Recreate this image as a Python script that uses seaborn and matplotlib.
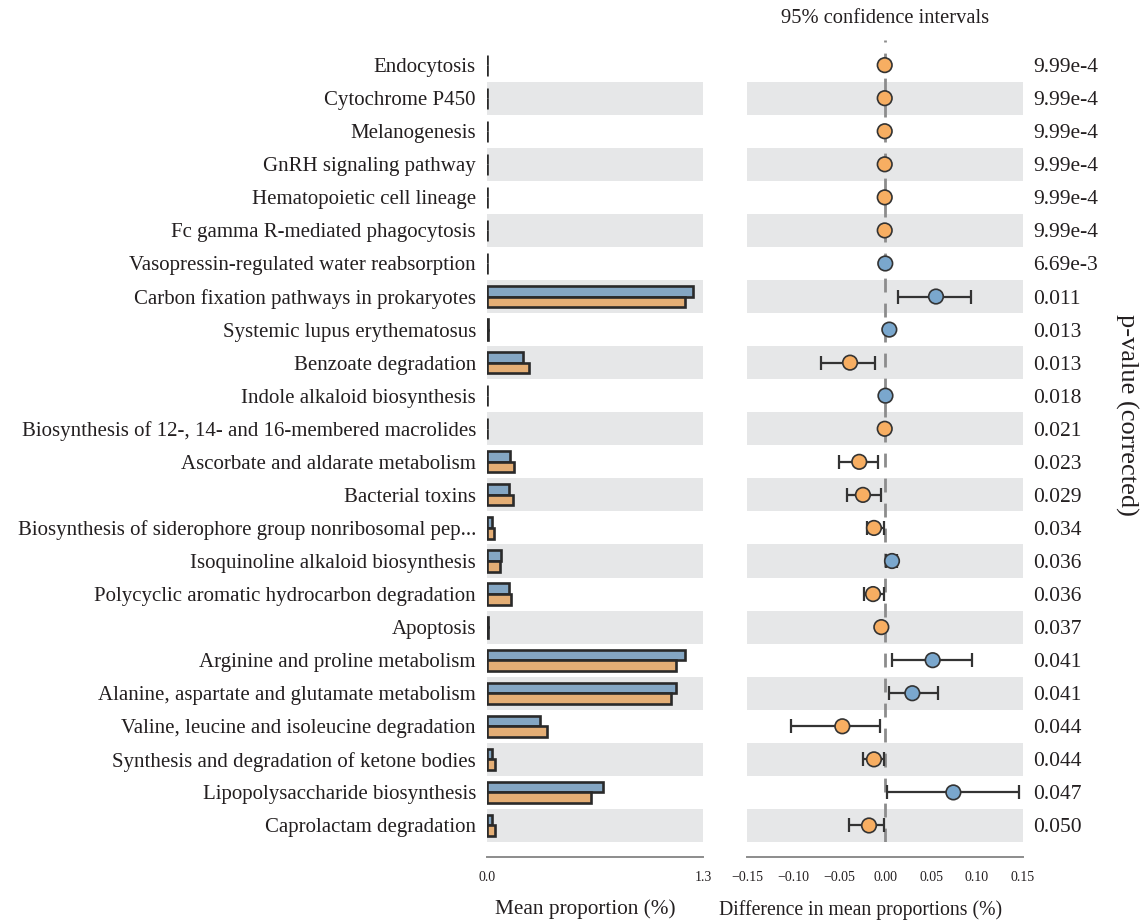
import numpy as np
import pandas as pd
import matplotlib
matplotlib.use("Agg")
import matplotlib.pyplot as plt
import seaborn as sns

categories = [
    "Endocytosis", "Cytochrome P450", "Melanogenesis", "GnRH signaling pathway",
    "Hematopoietic cell lineage", "Fc gamma R-mediated phagocytosis",
    "Vasopressin-regulated water reabsorption", "Carbon fixation pathways in prokaryotes",
    "Systemic lupus erythematosus", "Benzoate degradation", "Indole alkaloid biosynthesis",
    "Biosynthesis of 12-, 14- and 16-membered macrolides", "Ascorbate and aldarate metabolism",
    "Bacterial toxins", "Biosynthesis of siderophore group nonribosomal pep...",
    "Isoquinoline alkaloid biosynthesis", "Polycyclic aromatic hydrocarbon degradation",
    "Apoptosis", "Arginine and proline metabolism", "Alanine, aspartate and glutamate metabolism",
    "Valine, leucine and isoleucine degradation", "Synthesis and degradation of ketone bodies",
    "Lipopolysaccharide biosynthesis", "Caprolactam degradation",
]
group_names = ["Group A", "Group B"]
mean_a = [0.002, 0.002, 0.002, 0.002, 0.002, 0.002, 0.003, 1.24, 0.006, 0.217, 0.002, 0.002,
          0.14, 0.133, 0.03, 0.084, 0.133, 0.004, 1.19, 1.14, 0.32, 0.03, 0.70, 0.03]
mean_b = [0.003, 0.003, 0.003, 0.003, 0.003, 0.003, 0.002, 1.19, 0.004, 0.253, 0.001, 0.003,
          0.163, 0.157, 0.042, 0.078, 0.145, 0.007, 1.14, 1.11, 0.36, 0.046, 0.625, 0.048]
diff = [-0.0003, -0.0003, -0.0003, -0.0003, -0.0003, -0.0003, 0.0003, 0.0554, 0.0047, -0.038,
        0.0005, -0.0003, -0.028, -0.024, -0.012, 0.0076, -0.013, -0.004, 0.0518, 0.0297,
        -0.0464, -0.012, 0.0743, -0.0174]
ci_low = [-0.0006, -0.0006, -0.0006, -0.0006, -0.0006, -0.0006, 0.0001, 0.0145, 0.003, -0.070,
          0.0002, -0.0006, -0.050, -0.041, -0.0196, 0.001, -0.023, -0.006, 0.008, 0.004,
          -0.1025, -0.0236, 0.0022, -0.039]
ci_high = [-0.0001, -0.0001, -0.0001, -0.0001, -0.0001, -0.0001, 0.0005, 0.093, 0.006, -0.011,
           0.0008, -0.0001, -0.0076, -0.004, -0.001, 0.013, -0.001, -0.002, 0.095, 0.0576,
           -0.0054, -0.0007, 0.1453, -0.001]
p_values = ["9.99e-4", "9.99e-4", "9.99e-4", "9.99e-4", "9.99e-4", "9.99e-4", "6.69e-3",
            "0.011", "0.013", "0.013", "0.018", "0.021", "0.023", "0.029", "0.034", "0.036",
            "0.036", "0.037", "0.041", "0.041", "0.044", "0.044", "0.047", "0.050"]
left_ticks = [0.0, 1.3]
left_tick_labels = ["0.0", "1.3"]
right_ticks = [-0.15, -0.10, -0.05, 0.0, 0.05, 0.10, 0.15]
right_tick_labels = ["\u22120.15", "\u22120.10", "\u22120.05", "0.00", "0.05", "0.10", "0.15"]

BLUE = "#7aa7cd"
ORANGE = "#f7ae62"
BAND = "#e6e7e8"
EDGE = "#2a2a2a"
TEXT = "#231f20"

sns.set_style("white")
plt.rcParams["font.family"] = ["Liberation Serif", "DejaVu Serif"]

fig = plt.figure(figsize=(11.4, 9.21), dpi=100)
n = len(categories)
top_lim = -0.76
bottom_lim = n - 0.5

ax1 = fig.add_axes([487 / 1140, 1 - 842 / 921, 216 / 1140, 802 / 921])
ax2 = fig.add_axes([747 / 1140, 1 - 842 / 921, 276 / 1140, 802 / 921])

df = pd.DataFrame({
    "category": categories * 2,
    "value": mean_a + mean_b,
    "group": [group_names[0]] * n + [group_names[1]] * n,
})

for ax in (ax1, ax2):
    for i in range(1, n, 2):
        ax.axhspan(i - 0.5, i + 0.5, color=BAND, lw=0, zorder=0)

sns.barplot(data=df, y="category", x="value", hue="group", order=categories,
            hue_order=group_names, palette=[BLUE, ORANGE], orient="h", width=0.64,
            edgecolor=EDGE, linewidth=1.9, legend=False, ax=ax1, zorder=3)
ax1.set_xlim(0, 1.3)
ax1.set_ylim(bottom_lim, top_lim)
ax1.set_ylabel("")
ax1.set_xlabel("Mean proportion (%)", fontsize=15.3)
ax1.xaxis.set_label_coords((585 - 487) / 216, -0.072)
ax1.set_xticks(left_ticks)
ax1.set_xticklabels(left_tick_labels, fontsize=10.5)
ax1.tick_params(axis="y", length=0, pad=8, labelsize=15, labelcolor=TEXT)

pos = np.arange(n)
colors = [BLUE if d > 0 else ORANGE for d in diff]
ax2.axvline(0, color="#8c8c8c", lw=2, dashes=(5, 4), zorder=1)
xerr = np.array([np.array(diff) - np.array(ci_low), np.array(ci_high) - np.array(diff)])
ax2.errorbar(diff, pos, xerr=xerr, fmt="none", ecolor="#333333", elinewidth=1.6,
             capsize=5, capthick=1.6, zorder=3)
sdf = pd.DataFrame({"diff": diff, "pos": pos, "c": colors})
sns.scatterplot(data=sdf, x="diff", y="pos", hue="c", palette={BLUE: BLUE, ORANGE: ORANGE},
                s=110, edgecolor="#333333", linewidth=1.2, legend=False, ax=ax2, zorder=4)
ax2.set_xlim(-0.15, 0.15)
ax2.set_ylim(bottom_lim, top_lim)
ax2.set_yticks([])
ax2.set_ylabel("")
ax2.set_xticks(right_ticks)
ax2.set_xticklabels(right_tick_labels, fontsize=10.5)
ax2.set_xlabel("Difference in mean proportions (%)", fontsize=14.2)
ax2.xaxis.set_label_coords((861 - 747) / 276, -0.072)
ax2.set_title("95% confidence intervals", fontsize=14.8, pad=12, color=TEXT)

for i, p in enumerate(p_values):
    ax2.annotate(p, xy=(1.0, i), xycoords=("axes fraction", "data"), xytext=(7.5, 0),
                 textcoords="offset points", va="center_baseline", ha="left", fontsize=15.5,
                 color=TEXT)

for ax in (ax1, ax2):
    for s in ("left", "right", "top"):
        ax.spines[s].set_visible(False)
    ax.spines["bottom"].set_position(("outward", 11))
    ax.spines["bottom"].set_color("#8c8c8c")
    ax.spines["bottom"].set_linewidth(1.4)
    ax.tick_params(axis="x", direction="in", length=8, width=1.4, color="#8c8c8c",
                   pad=10, labelcolor=TEXT)
    ax.xaxis.label.set_color(TEXT)

zero_tick = ax2.xaxis.get_major_ticks()[3]
zero_tick.tick1line.set_markeredgewidth(2.2)
zero_tick.tick1line.set_markersize(10)
zero_tick.tick1line.set_color("#666666")

fig.text(1127 / 1140, 1 - 415 / 921, "p-value (corrected)", rotation=270, fontsize=19,
         ha="center", va="center", color=TEXT)

fig.savefig("out.png", dpi=100)
